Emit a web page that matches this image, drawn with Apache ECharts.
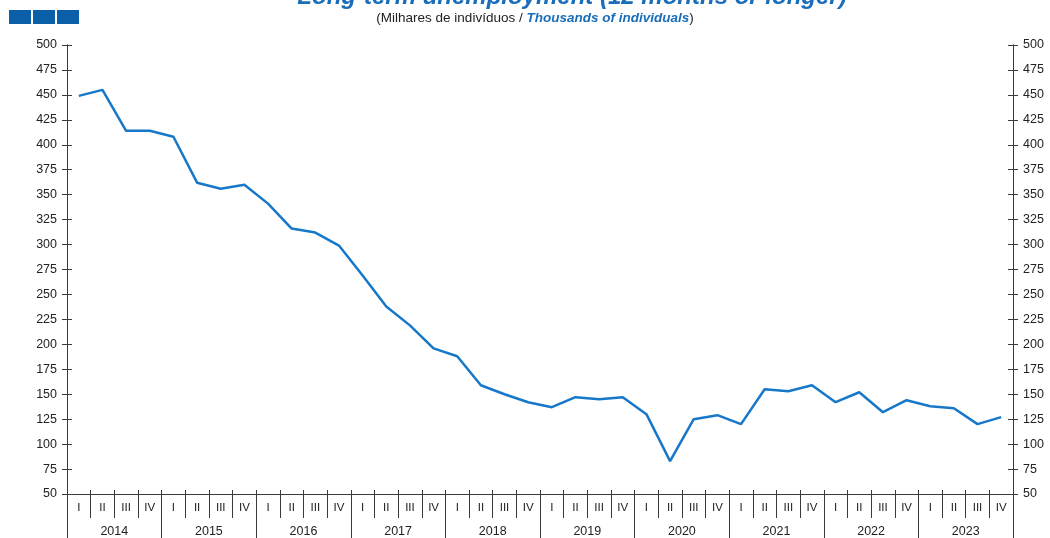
<!DOCTYPE html>
<html>
<head>
<meta charset="utf-8">
<script src="https://cdn.jsdelivr.net/npm/echarts@6/dist/echarts.min.js"></script>
<style>
html, body { margin: 0; padding: 0; background: #fff; }
#chart { width: 1050px; height: 538px; }
</style>
</head>
<body>
<div id="chart"></div>
<script>
const chartDom = document.querySelector('#chart')
let chart = echarts.init(chartDom)

const years = ['2014', '2015', '2016', '2017', '2018', '2019', '2020', '2021', '2022', '2023']
const quarterNames = ['I', 'II', 'III', 'IV']

// long-term unemployment, thousands of individuals, 2014 Q1 .. 2023 Q4
const longTermUnemployed = [
    449, 455, 414, 414,
    408, 362, 356, 360,
    341, 316, 312, 299,
    269, 238, 219, 196,
    188, 159, 150, 142,
    137, 147, 145, 147,
    130, 83, 125, 129,
    120, 155, 153, 159,
    142, 152, 132, 144,
    138, 136, 120, 127
]

const yTicks = { min: 50, max: 500, interval: 25 }

let quarters = []
for (let y = 0; y < years.length; y++) {
    for (let q = 0; q < quarterNames.length; q++) {
        quarters.push(quarterNames[q])
    }
}

const axisColor = '#3a3a3a'
const blue = '#1777c9'
const font = 'Liberation Sans, Arial, sans-serif'

function makeYAxis(position, inside, showLabel) {
    return {
        type: 'value',
        position: position,
        min: yTicks.min,
        max: yTicks.max,
        interval: yTicks.interval,
        axisLine: { show: true, lineStyle: { color: axisColor, width: 1 } },
        axisTick: { show: true, inside: inside, length: 5, lineStyle: { color: axisColor } },
        axisLabel: {
            show: showLabel,
            margin: 10,
            color: '#222',
            fontSize: 12.5,
            fontFamily: font
        },
        splitLine: { show: false }
    }
}

let option = {
    animation: false,
    backgroundColor: '#fff',
    title: [
        {
            text: 'Long-term unemployment (12 months or longer)',
            left: 567,
            textAlign: 'center',
            top: -20,
            textStyle: {
                color: '#1a6db8',
                fontSize: 24,
                fontWeight: 'bold',
                fontStyle: 'italic',
                fontFamily: font
            }
        },
        {
            text: '(Milhares de indivíduos / {b|Thousands of individuals})',
            left: 530,
            textAlign: 'center',
            top: 6,
            textStyle: {
                color: '#222',
                fontSize: 13.5,
                fontWeight: 'normal',
                fontFamily: font,
                rich: {
                    b: {
                        color: '#1a6db8',
                        fontSize: 13.5,
                        fontWeight: 'bold',
                        fontStyle: 'italic',
                        fontFamily: font
                    }
                }
            }
        }
    ],
    graphic: [
        { type: 'rect', shape: { x: 9, y: 10, width: 22, height: 14 }, style: { fill: '#0a5fa8' } },
        { type: 'rect', shape: { x: 33, y: 10, width: 22, height: 14 }, style: { fill: '#0a5fa8' } },
        { type: 'rect', shape: { x: 57, y: 10, width: 22, height: 14 }, style: { fill: '#0a5fa8' } }
    ],
    grid: {
        left: 67,
        right: 37,
        top: 45,
        bottom: 40,
        containLabel: false
    },
    xAxis: [
        {
            type: 'category',
            data: quarters,
            position: 'bottom',
            boundaryGap: true,
            axisLine: { show: true, lineStyle: { color: axisColor, width: 1 } },
            axisTick: { show: true, interval: 0, length: 24, lineStyle: { color: axisColor } },
            axisLabel: { interval: 0, margin: 8, color: '#222', fontSize: 11.5, fontFamily: font }
        },
        {
            type: 'category',
            data: quarters,
            position: 'bottom',
            boundaryGap: true,
            axisLine: { show: false },
            axisTick: { show: true, inside: true, interval: 0, length: 4, lineStyle: { color: axisColor } },
            axisLabel: { show: false }
        },
        {
            type: 'category',
            data: years,
            position: 'bottom',
            boundaryGap: true,
            axisLine: { show: false },
            axisTick: { show: true, interval: 0, length: 50, lineStyle: { color: axisColor } },
            axisLabel: { interval: 0, margin: 31, color: '#222', fontSize: 12.5, fontFamily: font }
        }
    ],
    yAxis: [
        makeYAxis('left', false, true),
        makeYAxis('left', true, false),
        makeYAxis('right', false, true),
        makeYAxis('right', true, false)
    ],
    series: [
        {
            type: 'line',
            name: 'Long-term unemployment',
            xAxisIndex: 0,
            yAxisIndex: 0,
            data: longTermUnemployed,
            symbol: 'none',
            lineStyle: { color: blue, width: 2.5 },
            z: 5
        }
    ]
}

chart.setOption(option)
</script>
</body>
</html>
